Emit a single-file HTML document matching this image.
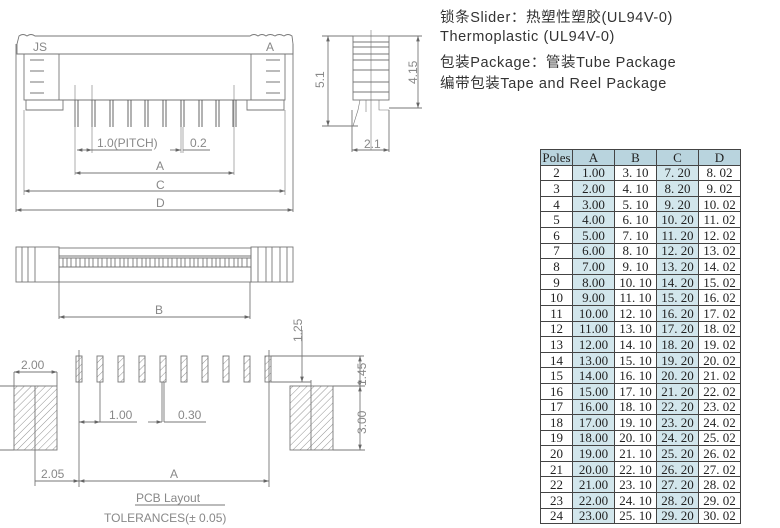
<!DOCTYPE html>
<html><head><meta charset="utf-8"><style>
body{margin:0;width:780px;height:528px;background:#fff;overflow:hidden;position:relative;font-family:"Liberation Sans",sans-serif}
.t{position:absolute;left:440px;font-size:14.5px;color:#333;font-family:"Liberation Sans","Noto Sans CJK SC",sans-serif;letter-spacing:0.6px;white-space:nowrap}
table{position:absolute;left:540px;top:149px;border-collapse:collapse;font-family:"Liberation Serif","Noto Serif CJK SC",serif;font-size:13px;color:#222}
td{border:1.3px solid #444;height:14.6px;padding:0;text-align:center;line-height:13px}
td.p{width:31px}td.c{width:41px}
tr td:nth-child(2),tr td:nth-child(4){background:#d2e6ec}
tr.h td{background:#b9d4de}
svg{position:absolute;left:0;top:0}
svg text{font-family:"Liberation Sans",sans-serif;fill:#888;font-size:12px}
</style></head><body>
<div class="t" style="top:6px">锁条Slider：热塑性塑胶(UL94V-0)</div>
<div class="t" style="top:29px">Thermoplastic (UL94V-0)</div>
<div class="t" style="top:51px">包装Package：管装Tube Package</div>
<div class="t" style="top:72px">编带包装Tape and Reel Package</div>

<svg width="780" height="528" viewBox="0 0 780 528">
<defs><pattern id="h" width="5" height="5" patternUnits="userSpaceOnUse" patternTransform="rotate(45)"><line x1="0" y1="0" x2="0" y2="5" stroke="#777" stroke-width="0.8"/></pattern>
<marker id="a" markerWidth="6" markerHeight="4" refX="6" refY="2" orient="auto-start-reverse"><path d="M0,0 L6,2 L0,4z" fill="#666"/></marker></defs>
<g stroke="#777" fill="none" stroke-width="0.9">
<path d="M19,36 Q23,33 27,36 Q31,33 35,36 L250,36 Q254,33 258,36 Q262,33 266,36 Q270,33 275,36 Q279,33 284,36 Q288,33 292,36 L293,44 L293,54 L17,54 L17,44z"/>
<line x1="16" y1="44" x2="16" y2="212"/><line x1="293" y1="44" x2="293" y2="212"/>
<rect x="24" y="54" width="35" height="46"/><rect x="251" y="54" width="34" height="46"/>
<path d="M30,60h14M30,71h14M30,82h14M30,93h14M266,60h14M266,71h14M266,82h14M266,93h14"/>
<path d="M26,100h37v10h-37zM247,100h37v10h-37z"/>
<line x1="59" y1="100" x2="251" y2="100"/>
<g stroke="#555">
<path d="M75,100v27M78,100v27M92,100v27M95,100v27M110,100v27M113,100v27M128,100v27M131,100v27M145,100v27M148,100v27M163,100v27M166,100v27M181,100v27M184,100v27M199,100v27M202,100v27M216,100v27M219,100v27M233,100v27M236,100v27"/>
</g>
<path d="M75,85v90M92,85v68M181,127v26M183,127v26M234,85v90M24,110v85M285,110v85" stroke-width="0.6"/>
<line x1="77" y1="150" x2="92" y2="150" marker-start="url(#a)" marker-end="url(#a)"/>
<line x1="92" y1="150" x2="152" y2="150"/>
<line x1="170" y1="150" x2="181" y2="150" marker-end="url(#a)"/><line x1="183" y1="150" x2="210" y2="150"/>
<line x1="75" y1="173" x2="234" y2="173" marker-start="url(#a)" marker-end="url(#a)"/>
<line x1="24" y1="191" x2="285" y2="191" marker-start="url(#a)" marker-end="url(#a)"/>
<line x1="16" y1="210" x2="293" y2="210" marker-start="url(#a)" marker-end="url(#a)"/>
<rect x="353" y="36" width="36" height="64"/>
<path d="M353,42h36M353,47h36M353,54h36M353,60h36M353,70h36M353,82h36M353,92h36"/>
<path d="M360,100l-2,10l-5,16M366,100v12M379,100v10h10M371,30v120" stroke-width="0.6"/>
<line x1="328" y1="36" x2="328" y2="126" marker-start="url(#a)" marker-end="url(#a)"/>
<path d="M322,36h31M322,126h36M389,108h33M389,36h33"/>
<line x1="418" y1="36" x2="418" y2="108" marker-start="url(#a)" marker-end="url(#a)"/>
<path d="M352,110v42M389,110v42"/>
<line x1="352" y1="150" x2="389" y2="150" marker-start="url(#a)" marker-end="url(#a)"/>
<rect x="16" y="247" width="43" height="35"/><rect x="251" y="247" width="42" height="35"/>
<path d="M22,247v35M28,247v35M35,247v35M258,247v35M266,247v35M272,247v35M280,247v35M287,247v35"/>
<rect x="59" y="248" width="192" height="34"/>
<path d="M59,256h192M59,267h192M59,258h192"/>
<path d="M63,258v9M67,258v9M71,258v9M76,258v9M80,258v9M85,258v9M89,258v9M93,258v9M98,258v9M102,258v9M107,258v9M111,258v9M115,258v9M120,258v9M124,258v9M128,258v9M133,258v9M137,258v9M142,258v9M146,258v9M150,258v9M155,258v9M159,258v9M163,258v9M168,258v9M172,258v9M177,258v9M181,258v9M185,258v9M190,258v9M194,258v9M198,258v9M203,258v9M207,258v9M212,258v9M216,258v9M220,258v9M225,258v9M229,258v9M234,258v9M238,258v9M242,258v9M247,258v9"/>
<path d="M59,282v37M250,282v37"/>
<line x1="59" y1="317" x2="250" y2="317" marker-start="url(#a)" marker-end="url(#a)"/>
<g fill="url(#h)">
<rect x="76" y="356" width="6" height="26"/><rect x="97" y="356" width="6" height="26"/><rect x="118" y="356" width="6" height="26"/><rect x="139" y="356" width="6" height="26"/><rect x="160" y="356" width="6" height="26"/><rect x="181" y="356" width="6" height="26"/><rect x="202" y="356" width="6" height="26"/><rect x="223" y="356" width="6" height="26"/><rect x="244" y="356" width="6" height="26"/><rect x="265" y="356" width="6" height="26"/>
<rect x="14" y="386" width="43" height="64"/><rect x="290" y="386" width="43" height="64"/>
</g>
<path d="M0,386h14M0,450h14M35,386v100M79,350v137M269,350v137M100,382v40M162,382v40M164,382v40M311,380v70"/>
<path d="M271,356h93M271,382h40M333,386h32M333,450h32M14,372v14M57,372v14"/>
<line x1="14" y1="372" x2="57" y2="372" marker-start="url(#a)" marker-end="url(#a)"/>
<line x1="302" y1="330" x2="302" y2="382" marker-end="url(#a)"/>
<line x1="360" y1="356" x2="360" y2="386" marker-start="url(#a)" marker-end="url(#a)"/>
<line x1="360" y1="386" x2="360" y2="450" marker-start="url(#a)" marker-end="url(#a)"/>
<line x1="79" y1="422" x2="100" y2="422" marker-start="url(#a)" marker-end="url(#a)"/><line x1="100" y1="422" x2="137" y2="422"/>
<line x1="148" y1="422" x2="162" y2="422" marker-end="url(#a)"/><line x1="164" y1="422" x2="206" y2="422"/>
<line x1="35" y1="481" x2="79" y2="481" marker-end="url(#a)"/>
<line x1="79" y1="481" x2="269" y2="481" marker-start="url(#a)" marker-end="url(#a)"/>
<line x1="135" y1="505" x2="225" y2="505"/>
</g>
<g>
<text x="33" y="51" font-size="13">JS</text><text x="266" y="51" font-size="13">A</text>
<text x="97" y="147">1.0(PITCH)</text><text x="190" y="147" font-size="13">0.2</text>
<text x="156" y="170">A</text><text x="156" y="189">C</text><text x="156" y="207">D</text>
<text x="364" y="148" font-size="13">2.1</text>
<text transform="translate(324,88) rotate(-90)" font-size="13">5.1</text>
<text transform="translate(417,84) rotate(-90)" font-size="13">4.15</text>
<text x="155" y="314">B</text>
<text x="21" y="369" font-size="13">2.00</text>
<text transform="translate(302,342) rotate(-90)">1.25</text>
<text transform="translate(366,386) rotate(-90)" font-size="13">1.45</text>
<text transform="translate(366,434) rotate(-90)" font-size="13">3.00</text>
<text x="109" y="419" font-size="13">1.00</text><text x="178" y="419" font-size="13">0.30</text>
<text x="41" y="478" font-size="13">2.05</text><text x="170" y="478" font-size="13">A</text>
<text x="136" y="502" font-size="13" fill="#aaa">PCB  Layout</text>
<text x="104" y="522" font-size="13" fill="#aaa">TOLERANCES(± 0.05)</text>
</g>
</svg>

<table>
<tr class="h"><td class="p">Poles</td><td class="c">A</td><td class="c">B</td><td class="c">C</td><td class="c">D</td></tr>
<tr><td>2</td><td>1.00</td><td>3. 10</td><td>7. 20</td><td>8. 02</td></tr>
<tr><td>3</td><td>2.00</td><td>4. 10</td><td>8. 20</td><td>9. 02</td></tr>
<tr><td>4</td><td>3.00</td><td>5. 10</td><td>9. 20</td><td>10. 02</td></tr>
<tr><td>5</td><td>4.00</td><td>6. 10</td><td>10. 20</td><td>11. 02</td></tr>
<tr><td>6</td><td>5.00</td><td>7. 10</td><td>11. 20</td><td>12. 02</td></tr>
<tr><td>7</td><td>6.00</td><td>8. 10</td><td>12. 20</td><td>13. 02</td></tr>
<tr><td>8</td><td>7.00</td><td>9. 10</td><td>13. 20</td><td>14. 02</td></tr>
<tr><td>9</td><td>8.00</td><td>10. 10</td><td>14. 20</td><td>15. 02</td></tr>
<tr><td>10</td><td>9.00</td><td>11. 10</td><td>15. 20</td><td>16. 02</td></tr>
<tr><td>11</td><td>10.00</td><td>12. 10</td><td>16. 20</td><td>17. 02</td></tr>
<tr><td>12</td><td>11.00</td><td>13. 10</td><td>17. 20</td><td>18. 02</td></tr>
<tr><td>13</td><td>12.00</td><td>14. 10</td><td>18. 20</td><td>19. 02</td></tr>
<tr><td>14</td><td>13.00</td><td>15. 10</td><td>19. 20</td><td>20. 02</td></tr>
<tr><td>15</td><td>14.00</td><td>16. 10</td><td>20. 20</td><td>21. 02</td></tr>
<tr><td>16</td><td>15.00</td><td>17. 10</td><td>21. 20</td><td>22. 02</td></tr>
<tr><td>17</td><td>16.00</td><td>18. 10</td><td>22. 20</td><td>23. 02</td></tr>
<tr><td>18</td><td>17.00</td><td>19. 10</td><td>23. 20</td><td>24. 02</td></tr>
<tr><td>19</td><td>18.00</td><td>20. 10</td><td>24. 20</td><td>25. 02</td></tr>
<tr><td>20</td><td>19.00</td><td>21. 10</td><td>25. 20</td><td>26. 02</td></tr>
<tr><td>21</td><td>20.00</td><td>22. 10</td><td>26. 20</td><td>27. 02</td></tr>
<tr><td>22</td><td>21.00</td><td>23. 10</td><td>27. 20</td><td>28. 02</td></tr>
<tr><td>23</td><td>22.00</td><td>24. 10</td><td>28. 20</td><td>29. 02</td></tr>
<tr><td>24</td><td>23.00</td><td>25. 10</td><td>29. 20</td><td>30. 02</td></tr>
</table>
</body></html>
